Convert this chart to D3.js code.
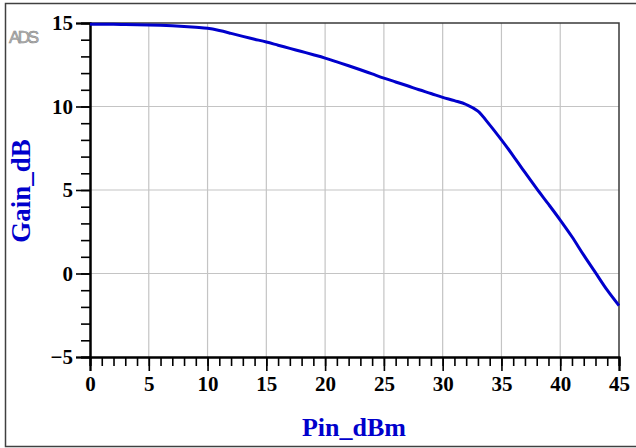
<!DOCTYPE html>
<html>
<head>
<meta charset="utf-8">
<script src="https://cdn.jsdelivr.net/npm/d3@7"></script>
<style>
  body { margin: 0; background: #fff; }
</style>
</head>
<body>
<svg id="chart" width="636" height="448"></svg>
<script>
// Gain vs input power
const pinDbm = d3.range(0, 46);
const gainDb = [
    14.92, 14.92, 14.92, 14.91, 14.90, 14.88, 14.86, 14.83, 14.79, 14.74,
    14.68, 14.55, 14.38, 14.20, 14.03, 13.86, 13.67, 13.48, 13.29, 13.10,
    12.90, 12.67, 12.44, 12.20, 11.95, 11.70, 11.47, 11.24, 11.00, 10.78,
    10.55, 10.35, 10.12, 9.72, 8.90, 8.00, 7.05, 6.05, 5.08, 4.15,
    3.20, 2.20, 1.10, 0.05, -1.00, -1.92
];
const xTicks = [0, 5, 10, 15, 20, 25, 30, 35, 40, 45];
const yTicks = [-5, 0, 5, 10, 15];

const svg = d3.select("#chart");
const plotL = 90, plotR = 619, plotT = 23, plotB = 357;

const x = d3.scaleLinear().domain([0, 45]).range([plotL, plotR]);
const y = d3.scaleLinear().domain([-5, 15]).range([plotB, plotT]);

// outer frame (no right edge visible)
svg.append("path")
    .attr("d", "M636,3.5 H5.5 V446.5 H636")
    .attr("fill", "none")
    .attr("stroke", "#404040")
    .attr("stroke-width", 1.5);

// grid
svg.append("g").selectAll("line")
    .data(xTicks.slice(1, -1))
    .join("line")
    .attr("x1", d => x(d)).attr("x2", d => x(d))
    .attr("y1", plotT).attr("y2", plotB)
    .attr("stroke", "#c4c4c4").attr("stroke-width", 1.2);

svg.append("g").selectAll("line")
    .data(yTicks.slice(1, -1))
    .join("line")
    .attr("x1", plotL).attr("x2", plotR)
    .attr("y1", d => y(d)).attr("y2", d => y(d))
    .attr("stroke", "#c4c4c4").attr("stroke-width", 1.2);

// top and right frame of plot
svg.append("path")
    .attr("d", `M${plotL},${plotT} H${plotR} V${plotB}`)
    .attr("fill", "none")
    .attr("stroke", "#3a3a3a")
    .attr("stroke-width", 1.5);

// minor ticks
const xMinor = d3.axisBottom(x).ticks(45).tickSize(9).tickFormat("");
const yMinor = d3.axisLeft(y).ticks(20).tickSize(9).tickFormat("");

const gxm = svg.append("g").attr("transform", `translate(0,${plotB})`).call(xMinor);
const gym = svg.append("g").attr("transform", `translate(${plotL},0)`).call(yMinor);

// major ticks + labels
const xAxis = d3.axisBottom(x).tickValues(xTicks).tickSize(14).tickPadding(5);
const yAxis = d3.axisLeft(y).tickValues(yTicks).tickSize(14).tickPadding(3);

const gx = svg.append("g").attr("transform", `translate(0,${plotB})`).call(xAxis);
const gy = svg.append("g").attr("transform", `translate(${plotL},0)`).call(yAxis);

[gxm, gym, gx, gy].forEach(g => {
    g.select(".domain").attr("stroke", "#000").attr("stroke-width", 2);
    g.selectAll(".tick line").attr("stroke", "#000").attr("stroke-width", 1.6);
});

gx.selectAll("text")
    .attr("fill", "#000")
    .style("font-family", "'Liberation Serif', 'Times New Roman', serif")
    .style("font-weight", "bold")
    .style("font-size", "21px");

gy.selectAll("text")
    .attr("fill", "#000")
    .attr("dy", "0.33em")
    .style("font-family", "'Liberation Serif', 'Times New Roman', serif")
    .style("font-weight", "bold")
    .style("font-size", "21px");

// curve
const line = d3.line()
    .x((d, i) => x(pinDbm[i]))
    .y(d => y(d))
    .curve(d3.curveMonotoneX);

svg.append("path")
    .datum(gainDb)
    .attr("fill", "none")
    .attr("stroke", "#0000cc")
    .attr("stroke-width", 3)
    .attr("d", line);

// axis titles
svg.append("text")
    .attr("x", 354)
    .attr("y", 436)
    .attr("text-anchor", "middle")
    .attr("fill", "#0000cc")
    .style("font-family", "'Liberation Serif', 'Times New Roman', serif")
    .style("font-weight", "bold")
    .style("font-size", "26px")
    .text("Pin_dBm");

svg.append("text")
    .attr("transform", "translate(30,191) rotate(-90)")
    .attr("text-anchor", "middle")
    .attr("fill", "#0000cc")
    .style("font-family", "'Liberation Serif', 'Times New Roman', serif")
    .style("font-weight", "bold")
    .style("font-size", "27px")
    .text("Gain_dB");

// ADS watermark
svg.append("text")
    .attr("x", 9)
    .attr("y", 43)
    .attr("textLength", 30)
    .attr("fill", "#b4b4b4")
    .attr("stroke", "#8a8a8a")
    .attr("stroke-width", 0.6)
    .style("font-family", "'Liberation Sans', Arial, sans-serif")
    .style("font-size", "17px")
    .text("ADS");
</script>
</body>
</html>
